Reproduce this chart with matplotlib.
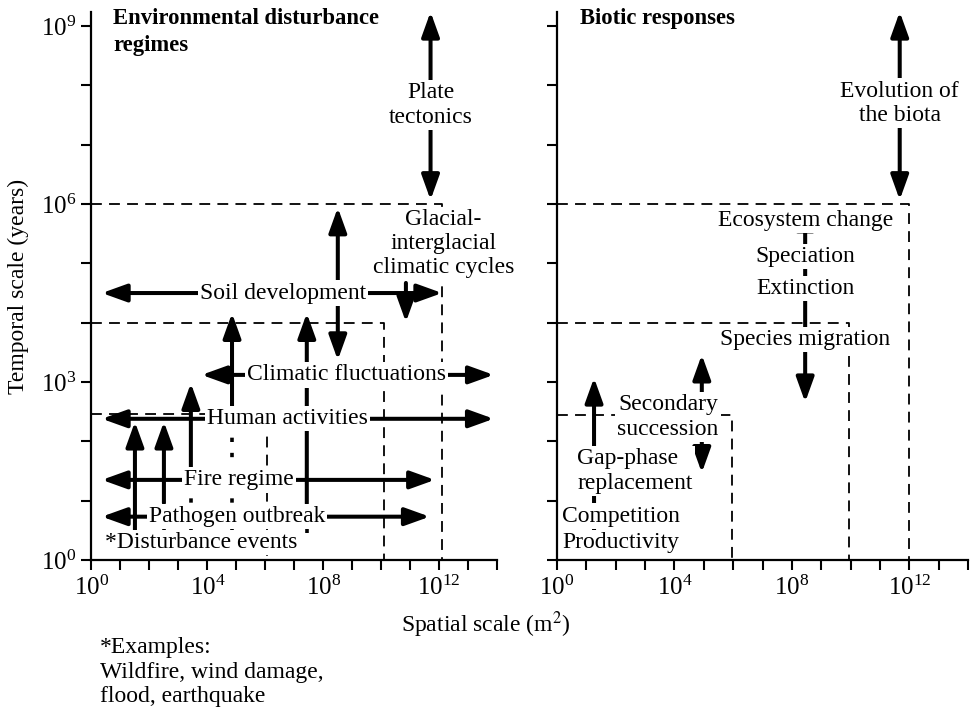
import numpy as np
import matplotlib
matplotlib.use('Agg')
import matplotlib.pyplot as plt
from matplotlib.patches import FancyArrowPatch
from matplotlib.ticker import NullFormatter

plt.rcParams['font.family'] = 'Liberation Serif'
plt.rcParams['mathtext.fontset'] = 'stix'

# all positions below are log10 exponents (m^2 for x, years for y)
# dashed boxes: right edge and top edge
env_box_x = [12.1, 10.1, 6.05]
env_box_y = [6.0, 4.0, 2.46]
bio_box_x = [12.0, 9.95, 5.95]
bio_box_y = [6.0, 4.0, 2.45]

# left panel, horizontal double arrows
env_h_labels = ['Soil development', 'Climatic fluctuations', 'Human activities',
                'Fire regime', 'Pathogen outbreak']
env_h_y = [4.5, 3.12, 2.38, 1.35, 0.73]
env_h_x0 = [0.36, 3.8, 0.36, 0.36, 0.36]
env_h_x1 = [12.1, 13.88, 13.88, 11.85, 11.67]
env_h_textx = [6.6, 8.79, 6.76, 5.1, 5.02]

# left panel, disturbance event arrows (solid part + dotted tail)
event_x = [1.5, 2.5, 3.43, 4.85, 7.43]
event_tip = [2.33, 2.33, 2.98, 4.16, 4.16]
event_solid = [0.5, 0.96, 1.57, 2.58, 0.95]
event_base = 0.45

# left panel, vertical arrows: x, y0, y1, style
env_v = [(11.7, 6.07, 9.24, '<|-|>'),
         (8.5, 3.37, 5.94, '<|-|>'),
         (10.85, 4.67, 4.01, '-|>')]
# right panel, vertical arrows
bio_v = [(11.67, 6.07, 9.24, '<|-|>'),
         (8.45, 2.66, 5.99, '<|-|>'),
         (4.93, 1.47, 3.46, '<|-|>'),
         (1.26, 0.45, 3.07, '-|>')]

# labels: text, x, y, ha
env_labels = [('Plate\ntectonics', 11.7, 7.67, 'center'),
              ('Glacial-\ninterglacial\nclimatic cycles', 12.15, 5.33, 'center'),
              ('*Disturbance events', 3.79, 0.29, 'center')]
bio_labels = [('Evolution of\nthe biota', 11.67, 7.7, 'center'),
              ('Ecosystem change', 8.45, 5.73, 'center'),
              ('Speciation', 8.45, 5.11, 'center'),
              ('Extinction', 8.45, 4.58, 'center'),
              ('Species migration', 8.45, 3.72, 'center'),
              ('Secondary\nsuccession', 3.78, 2.41, 'center'),
              ('Gap-phase\nreplacement', 0.68, 1.5, 'left'),
              ('Competition', 0.17, 0.74, 'left'),
              ('Productivity', 0.17, 0.29, 'left')]

FS = 17


def arrow(ax, x0, y0, x1, y1, style='<|-|>'):
    p = FancyArrowPatch((10.0 ** x0, 10.0 ** y0), (10.0 ** x1, 10.0 ** y1),
                        arrowstyle=style + ',head_length=0.75,head_width=0.27',
                        mutation_scale=20, lw=2.9, color='black',
                        shrinkA=0, shrinkB=0, zorder=2)
    ax.add_patch(p)


def label(ax, s, x, y, ha='center'):
    ax.text(10.0 ** x, 10.0 ** y, s, ha=ha, va='center', fontsize=FS,
            linespacing=1.2, zorder=5,
            bbox=dict(facecolor='white', edgecolor='none', pad=1.5))


def boxes(ax, bx, by):
    for x, y in zip(bx, by):
        ax.plot([1, 10.0 ** x, 10.0 ** x], [10.0 ** y, 10.0 ** y, 1],
                color='black', lw=1.3, ls=(0, (6, 4)), zorder=1)


def setup(ax, ylabels=True):
    ax.set_xscale('log')
    ax.set_yscale('log')
    ax.set_xlim(1, 1e14)
    ax.set_ylim(1, 10 ** 9.24)
    ax.set_xticks([1, 1e4, 1e8, 1e12])
    ax.set_xticks(10.0 ** np.arange(15), minor=True)
    ax.set_yticks([1, 1e3, 1e6, 1e9])
    ax.set_yticks(10.0 ** np.arange(10), minor=True)
    ax.xaxis.set_minor_formatter(NullFormatter())
    ax.yaxis.set_minor_formatter(NullFormatter())
    ax.tick_params(which='both', direction='out', length=7, width=1.5,
                   labelsize=18, pad=4)
    if not ylabels:
        ax.tick_params(axis='y', labelleft=False)
    for s in ['top', 'right']:
        ax.spines[s].set_visible(False)
    for s in ['left', 'bottom']:
        ax.spines[s].set_linewidth(1.6)


fig = plt.figure(figsize=(9.73, 7.10), dpi=100)
ax1 = fig.add_axes([0.094, 0.2113, 0.417, 0.772])
ax2 = fig.add_axes([0.5725, 0.2113, 0.4225, 0.772])
setup(ax1)
setup(ax2, ylabels=False)

# left panel
boxes(ax1, env_box_x, env_box_y)
for s, y, x0, x1, tx in zip(env_h_labels, env_h_y, env_h_x0, env_h_x1, env_h_textx):
    arrow(ax1, x0, y, x1, y)
    label(ax1, s, tx, y)
for x, tip, solid in zip(event_x, event_tip, event_solid):
    arrow(ax1, x, solid, x, tip, '-|>')
    if solid > event_base + 0.1:
        ax1.plot([10.0 ** x, 10.0 ** x], [10.0 ** event_base, 10.0 ** solid],
                 color='black', lw=2.6, ls=(0, (1.2, 3)), zorder=2)
for x, y0, y1, st in env_v:
    arrow(ax1, x, y0, x, y1, st)
for s, x, y, ha in env_labels:
    label(ax1, s, x, y, ha)
ax1.text(0.053, 1.007, 'Environmental disturbance\nregimes', transform=ax1.transAxes,
         ha='left', va='top', fontsize=16.3, fontweight='bold', linespacing=1.4)

# right panel
boxes(ax2, bio_box_x, bio_box_y)
for x, y0, y1, st in bio_v:
    arrow(ax2, x, y0, x, y1, st)
for s, x, y, ha in bio_labels:
    label(ax2, s, x, y, ha)
ax2.text(0.056, 1.007, 'Biotic responses', transform=ax2.transAxes,
         ha='left', va='top', fontsize=16.3, fontweight='bold')

fig.text(0.4995, 0.12, 'Spatial scale (m$^2$)', ha='center', va='center', fontsize=FS)
fig.text(0.0185, 0.597, 'Temporal scale (years)', ha='center', va='center',
         rotation=90, fontsize=FS)
fig.text(0.103, 0.0535, '*Examples:\nWildfire, wind damage,\nflood, earthquake',
         ha='left', va='center', fontsize=FS, linespacing=1.2)

fig.savefig('out.png', dpi=100)
